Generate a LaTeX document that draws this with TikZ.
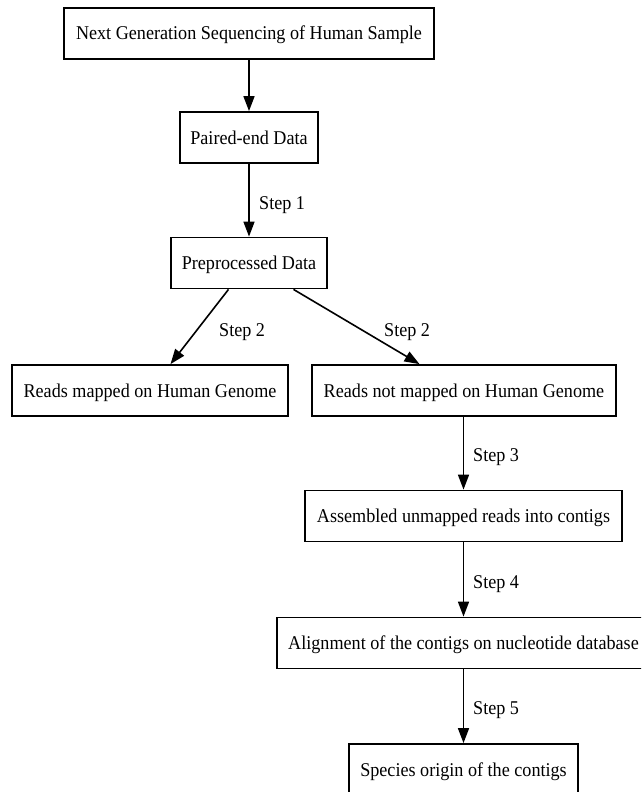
\documentclass[tikz,border=0pt]{standalone}
\usepackage{fontspec}
\setmainfont{Liberation Serif}[FakeStretch=0.93]
\usetikzlibrary{arrows.meta}
\tikzset{
  box/.style={draw=black, line width=1.8pt, inner sep=0pt, minimum height=51pt,
    text height=13pt, text depth=0pt, font=\fontsize{19.5pt}{22pt}\selectfont},
  conn/.style={line width=1.6pt, -{Triangle[length=15pt,width=11pt]}},
  steplabel/.style={anchor=base west, inner sep=0pt, font=\fontsize{19.5pt}{22pt}\selectfont}
}
\begin{document}
\begin{tikzpicture}[x=1pt,y=-1pt]
\useasboundingbox (0,0) rectangle (641,792);
\clip (0,0) rectangle (641,792);
\node[box, minimum width=370pt] (ngs) at (249,33.5) {Next Generation Sequencing of Human Sample};
\node[box, minimum width=138pt] (pe) at (249,137.5) {Paired-end Data};
\node[box, minimum width=156pt] (pp) at (249,263) {Preprocessed Data};
\node[box, minimum width=276pt] (rm) at (150,390.5) {Reads mapped on Human Genome};
\node[box, minimum width=304pt] (rn) at (464,390.5) {Reads not mapped on Human Genome};
\node[box, minimum width=317pt] (as) at (463.5,516) {Assembled unmapped reads into contigs};
\node[box, minimum width=373pt] (al) at (463.5,643) {Alignment of the contigs on nucleotide database};
\node[box, minimum width=229pt] (sp) at (463.5,769.5) {Species origin of the contigs};
\draw[conn] (ngs) -- (pe);
\draw[conn] (pe) -- (pp);
\draw[conn] (pp) -- (rm);
\draw[conn] (pp) -- (rn);
\draw[conn] (rn.south -| as.north) -- (as);
\draw[conn] (as) -- (al);
\draw[conn] (al) -- (sp);
\node[steplabel] (s1) at (259,209.5) {Step 1};
\node[steplabel] (s2a) at (219,336.5) {Step 2};
\node[steplabel] (s2b) at (384,336.5) {Step 2};
\node[steplabel] (s3) at (473,461.5) {Step 3};
\node[steplabel] (s4) at (473,588.5) {Step 4};
\node[steplabel] (s5) at (473,714.5) {Step 5};
\end{tikzpicture}
\end{document}
